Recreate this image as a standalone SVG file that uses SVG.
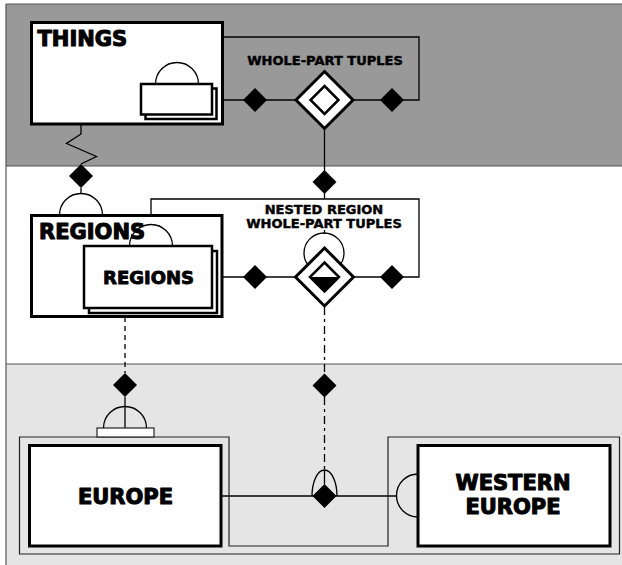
<svg xmlns="http://www.w3.org/2000/svg" width="622" height="565" viewBox="0 0 622 565">
  <style>
    .lbl { font-family: "DejaVu Sans", "Liberation Sans", sans-serif; font-weight: bold; fill: #000; stroke: #000; stroke-linejoin: round; }
    .big { font-size: 21px; stroke-width: 1.1px; }
    .mid { font-size: 18px; stroke-width: 0.9px; }
    .sm { font-size: 13px; stroke-width: 0.45px; }
    .box { fill: #fff; stroke: #000; stroke-width: 3; }
    .sub { fill: #fff; stroke: #000; stroke-width: 2.5; }
    .ln { fill: none; stroke: #000; stroke-width: 1.3; }
    .thin { fill: none; stroke: #222; stroke-width: 1.2; }
    .dot { fill: #000; stroke: none; }
    .frame { fill: none; stroke: #555; stroke-width: 1.2; }
  </style>
  <defs>
    <!-- small filled diamond used at connector ends -->
    <polygon id="pin" class="dot" points="0,-12 12,0 0,12 -12,0"/>
  </defs>

  <!-- background bands -->
  <g id="bands">
    <rect x="6" y="4" width="616" height="162" fill="#999"/>
    <rect x="6" y="166" width="616" height="198" fill="#fff"/>
    <rect x="6" y="364" width="616" height="201" fill="#e5e5e5"/>
    <line class="frame" x1="6" y1="4" x2="622" y2="4"/>
    <line class="frame" x1="6" y1="4" x2="6" y2="565"/>
    <line class="frame" x1="6" y1="166" x2="622" y2="166"/>
    <line class="frame" x1="6" y1="364" x2="622" y2="364"/>
  </g>

  <!-- connectors -->
  <g id="connectors">
    <!-- things: self loop to whole-part tuples -->
    <polyline class="ln" points="177,63 177,37 419,37 419,100 404,100"/>
    <line class="ln" x1="217" y1="100" x2="404" y2="100"/>
    <use href="#pin" x="255" y="100"/>
    <use href="#pin" x="392" y="100"/>
    <!-- tuples down to nested tuples -->
    <line class="ln" x1="324.5" y1="128" x2="324.5" y2="199"/>
    <use href="#pin" x="324.5" y="182"/>
    <!-- things to regions (zigzag) -->
    <polyline class="ln" points="81,124 81,134 66.5,143.5 96.5,156.5 81,164"/>
    <use href="#pin" x="81" y="176"/>
    <line class="ln" x1="81" y1="188" x2="81" y2="194"/>
    <!-- nested regions loop -->
    <polyline class="ln" points="151,224 151,199 419,199 419,277 404,277"/>
    <line class="ln" x1="217" y1="277" x2="404" y2="277"/>
    <use href="#pin" x="255" y="277"/>
    <use href="#pin" x="392" y="277"/>
    <line class="ln" x1="324.5" y1="230" x2="324.5" y2="234"/>
    <circle class="ln" cx="324" cy="253" r="20"/>
    <!-- regions to europe (dashed) -->
    <line class="ln" x1="125" y1="317" x2="125" y2="373" stroke-dasharray="5 4"/>
    <use href="#pin" x="125" y="385"/>
    <line class="ln" x1="125" y1="397" x2="125" y2="428"/>
    <!-- nested tuples to europe link (dash-dot) -->
    <line class="ln" x1="324.5" y1="307" x2="324.5" y2="374" stroke-dasharray="8 4 3 4"/>
    <use href="#pin" x="324.5" y="385.5"/>
    <line class="ln" x1="324.5" y1="397" x2="324.5" y2="470" stroke-dasharray="8 4 3 4"/>
    <line class="ln" x1="324.5" y1="470" x2="324.5" y2="484"/>
    <!-- europe to western europe -->
    <line class="ln" x1="221" y1="496" x2="397" y2="496"/>
    <path class="ln" d="M312,496 A12.5,26 0 0 1 337,496"/>
    <use href="#pin" x="324.5" y="496"/>
  </g>

  <!-- THINGS -->
  <g id="things">
    <rect class="box" x="31.5" y="22.5" width="191" height="101.5"/>
    <text class="lbl big" x="37.5" y="45.5">THINGS</text>
    <rect class="sub" x="145.5" y="88.5" width="71" height="30.5"/>
    <rect class="sub" x="141" y="84" width="71" height="30.5"/>
    <path class="ln" d="M155.5,84 A21.5,21.5 0 0 1 198.5,84"/>
  </g>

  <!-- WHOLE-PART TUPLES -->
  <g id="whole-part-tuples">
    <text class="lbl sm" x="325" y="65" text-anchor="middle">WHOLE-PART TUPLES</text>
    <polygon points="324.5,71.5 353,100 324.5,128.5 296,100" fill="#fff" stroke="#000" stroke-width="3"/>
    <polygon points="324.5,86 338.5,100 324.5,114 310.5,100" fill="#fff" stroke="#000" stroke-width="2.5"/>
  </g>

  <!-- REGIONS (outer) -->
  <g id="regions">
    <path class="ln" d="M59.5,215 A21.5,21.5 0 0 1 102.5,215" fill="#fff"/>
    <rect class="box" x="31.5" y="215.5" width="190.5" height="101"/>
    <text class="lbl big" x="39" y="239">REGIONS</text>
  </g>

  <!-- REGIONS (nested set) -->
  <g id="regions-set">
    <rect class="sub" x="89" y="251" width="128" height="62"/>
    <rect class="sub" x="84" y="246" width="128" height="62"/>
    <text class="lbl mid" x="148.5" y="283.5" text-anchor="middle">REGIONS</text>
    <path class="ln" d="M129.5,246 A21.5,21.5 0 0 1 172.5,246"/>
  </g>

  <!-- NESTED REGION WHOLE-PART TUPLES -->
  <g id="nested-region-tuples">
    <text class="lbl sm" x="324" y="214" text-anchor="middle">NESTED REGION</text>
    <text class="lbl sm" x="324" y="228" text-anchor="middle">WHOLE-PART TUPLES</text>
    <polygon points="324.5,248 353.5,277 324.5,306 295.5,277" fill="#fff" stroke="#000" stroke-width="3"/>
    <polygon points="324.5,262.5 339,277 324.5,291.5 310,277" fill="#fff" stroke="#000" stroke-width="2.5"/>
    <polygon class="dot" points="310,277 339,277 324.5,291.5"/>
  </g>

  <!-- instance frame around EUROPE and WESTERN EUROPE -->
  <g id="instance-frame">
    <path class="thin" d="M19.5,437 H229 V546 H388 V437 H619.5 V554 H19.5 Z"/>
  </g>

  <!-- EUROPE -->
  <g id="europe">
    <rect x="97" y="428" width="57" height="9" fill="#fff" stroke="#222" stroke-width="1.2"/>
    <path class="ln" d="M103.5,428 A21.5,21.5 0 0 1 146.5,428"/>
    <rect class="box" x="29.5" y="445.5" width="191.5" height="100.5"/>
    <text class="lbl big" x="125.5" y="504" text-anchor="middle">EUROPE</text>
  </g>

  <!-- WESTERN EUROPE -->
  <g id="western-europe">
    <path class="ln" d="M418,474 A21.5,21.5 0 0 0 418,517"/>
    <rect class="box" x="418" y="445.5" width="192" height="100.5"/>
    <text class="lbl big" x="513" y="490" text-anchor="middle">WESTERN</text>
    <text class="lbl big" x="513" y="513.5" text-anchor="middle">EUROPE</text>
  </g>
</svg>
